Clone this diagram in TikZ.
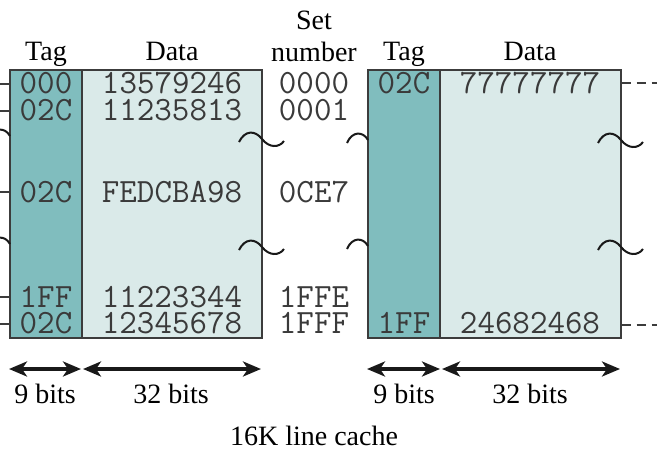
\documentclass[tikz,border=0pt]{standalone}
\usepackage{fontspec}
\setmainfont{Liberation Serif}
\usetikzlibrary{arrows.meta}
\definecolor{tagc}{HTML}{80BDBE}
\definecolor{datac}{HTML}{DAEAE9}
\definecolor{edgec}{HTML}{3C3C3C}
\definecolor{monoc}{HTML}{3A3A3A}
\begin{document}
\begin{tikzpicture}[x=1pt,y=-1pt,
  mono/.style={font=\ttfamily\fontsize{34}{34}\selectfont, text=monoc, inner sep=0pt, anchor=base},
  lab/.style={font=\fontsize{28}{30}\selectfont, inner sep=0pt, anchor=base},
  tagcol/.style={draw=edgec, fill=tagc, line width=1.4pt, inner sep=0pt, minimum width=72pt, minimum height=268pt},
  datacol/.style={draw=edgec, fill=datac, line width=1.4pt, inner sep=0pt, minimum height=268pt},
  wave/.style={draw=black!90, line width=2pt},
  tick/.style={draw=edgec, line width=1.2pt},
  dashline/.style={draw=edgec, line width=1.2pt, dash pattern=on 9pt off 6pt},
  dim/.style={draw=black!90, line width=3.6pt, {Stealth[length=18pt,width=15pt,inset=5pt]}-{Stealth[length=18pt,width=15pt,inset=5pt]}},
  fullwave/.pic={\draw[wave] (-23,3) .. controls (-17,-9) and (-7,-9) .. (0,0) .. controls (7,9) and (17,9) .. (22,2);},
  halfwave/.pic={\draw[wave] (-21,3) .. controls (-16,-9) and (-5,-9) .. (0,0);}
]
\useasboundingbox (0,0) rectangle (657,450);

% left cache
\node[tagcol] (ltag) at (46,204) {};
\node[datacol, minimum width=180pt] (ldata) at (172,204) {};
% right cache
\node[tagcol] (rtag) at (404,204) {};
\node[datacol, minimum width=181pt] (rdata) at (530.5,204) {};

% headers
\node[lab] (htl) at (46,60) {Tag};
\node[lab] (hdl) at (172,60) {Data};
\node[lab] (hset) at (314,29) {Set};
\node[lab] (hnum) at (314,61) {number};
\node[lab] (htr) at (404,60) {Tag};
\node[lab] (hdr) at (530,60) {Data};

% left rows
\node[mono] (lt0) at (46,93) {000};
\node[mono] (lt1) at (46,120) {02C};
\node[mono] (lt2) at (46,202) {02C};
\node[mono] (lt3) at (46,307) {1FF};
\node[mono] (lt4) at (46,333) {02C};
\node[mono] (ld0) at (172,93) {13579246};
\node[mono] (ld1) at (172,120) {11235813};
\node[mono] (ld2) at (172,202) {FEDCBA98};
\node[mono] (ld3) at (172,307) {11223344};
\node[mono] (ld4) at (172,333) {12345678};
% set numbers
\node[mono] (sn0) at (314,93) {0000};
\node[mono] (sn1) at (314,120) {0001};
\node[mono] (sn2) at (314,202) {0CE7};
\node[mono] (sn3) at (314,307) {1FFE};
\node[mono] (sn4) at (314,333) {1FFF};
% right rows
\node[mono] (rt0) at (404,93) {02C};
\node[mono] (rt4) at (404,333) {1FF};
\node[mono] (rd0) at (530,93) {77777777};
\node[mono] (rd4) at (530,333) {24682468};

% ticks at left
\foreach \r/\yy in {0/84,1/111,2/192,3/297,4/324} {
  \coordinate (tk\r) at (0,\yy);
  \draw[tick] (tk\r) -- (ltag.west |- tk\r);
}
% dashed lines at right
\coordinate (dsa) at (657,83);
\coordinate (dsb) at (657,325);
\draw[dashline] (rdata.east |- dsa) -- (dsa);
\draw[dashline] (rdata.east |- dsb) -- (dsb);

% break marks
\pic at (10,136) {halfwave};
\pic at (262,139) {fullwave};
\pic at (368,140) {halfwave};
\pic at (621,140) {fullwave};
\pic at (10,244) {halfwave};
\pic at (262,247) {fullwave};
\pic at (368,246) {halfwave};
\pic at (621,247) {fullwave};

% width arrows
\coordinate (a0) at (9,369);
\coordinate (a1) at (81,369);
\coordinate (a2) at (83,369);
\coordinate (a3) at (261,369);
\coordinate (b0) at (367,369);
\coordinate (b1) at (440,369);
\coordinate (b2) at (442,369);
\coordinate (b3) at (620,369);
\draw[dim] (a0) -- (a1);
\draw[dim] (a2) -- (a3);
\draw[dim] (b0) -- (b1);
\draw[dim] (b2) -- (b3);

\node[lab] (bl1) at (45,403) {9 bits};
\node[lab] (bl2) at (171,403) {32 bits};
\node[lab] (bl3) at (404,403) {9 bits};
\node[lab] (bl4) at (530,403) {32 bits};
\node[lab] (cap) at (314,445) {16K line cache};
\end{tikzpicture}
\end{document}
